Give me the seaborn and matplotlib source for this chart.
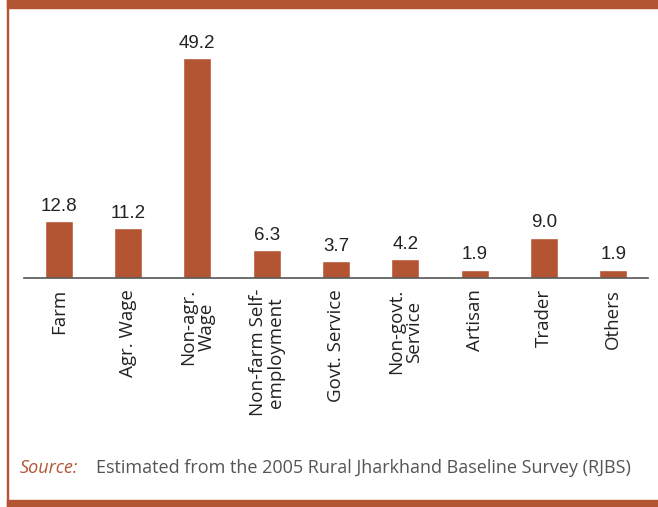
import matplotlib
matplotlib.use("Agg")
import matplotlib.pyplot as plt
import seaborn as sns
import pandas as pd
import numpy as np
from matplotlib.patches import Rectangle

categories = ["Farm", "Agr. Wage", "Non-agr.\nWage", "Non-farm Self-\nemployment",
              "Govt. Service", "Non-govt.\nService", "Artisan", "Trader", "Others"]
values = [12.8, 11.2, 49.2, 6.3, 3.7, 4.2, 1.9, 9.0, 1.9]
source_label = "Source:"
source_text = "Estimated from the 2005 Rural Jharkhand Baseline Survey (RJBS)"

accent = "#B35532"
df = pd.DataFrame({"category": categories, "value": values})

sns.set_style("white")
plt.rcParams["font.family"] = ["Open Sans", "DejaVu Sans"]

fig = plt.figure(figsize=(6.58, 5.07), dpi=100)
ax = fig.add_axes([24 / 658, 1 - 278 / 507, 624 / 658, 258 / 507])

sns.barplot(data=df, x="category", y="value", color=accent, width=0.4,
            saturation=1, ax=ax)

ax.set_xlim(-0.5, len(categories) - 0.5)
ax.set_ylim(0, 49.2 * 258 / 220)

for i, v in enumerate(values):
    ax.text(i, v + 1.4, f"{v:.1f}", ha="center", va="bottom",
            fontsize=13.5, family=["Liberation Sans", "DejaVu Sans"],
            color="#222222")

for s in ["left", "right", "top"]:
    ax.spines[s].set_visible(False)
ax.spines["bottom"].set_color("#555555")
ax.spines["bottom"].set_linewidth(1.2)
ax.set_yticks([])
ax.set_xlabel("")
ax.set_ylabel("")

ax.set_xticks(range(len(categories)))
ax.set_xticklabels(categories, rotation=90, fontsize=13.5, color="#222222",
                   linespacing=1.0)
ax.tick_params(axis="x", which="major", length=0, pad=8)
ax.set_xticks(np.arange(-0.5, len(categories), 1), minor=True)
ax.tick_params(axis="x", which="minor", length=5, width=1.2, color="#555555",
               direction="out")

# frame bands
fig.patches.append(Rectangle((7 / 658, 1 - 8 / 507), 1, 8 / 507,
                             transform=fig.transFigure, color=accent, zorder=0))
fig.patches.append(Rectangle((7 / 658, 0), 1, 7 / 507,
                             transform=fig.transFigure, color=accent, zorder=0))
fig.patches.append(Rectangle((6.5 / 658, 0), 1.5 / 658, 1,
                             transform=fig.transFigure, color=accent, zorder=0))

fig.text(20 / 658, 1 - 468 / 507, source_label, color=accent, style="italic",
         fontsize=13.0, va="center", ha="left")
fig.text(96 / 658, 1 - 468 / 507, source_text, color="#555555",
         fontsize=13.0, va="center", ha="left")

fig.savefig("out.png", dpi=100)
